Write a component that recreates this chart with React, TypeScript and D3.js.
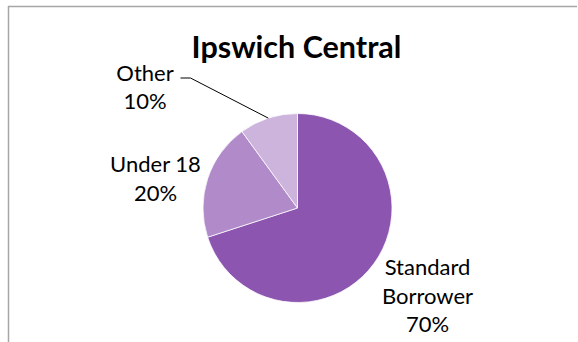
import React from "react";
import * as d3 from "d3";

const title = "Ipswich Central";
const categories = ["Standard Borrower", "Under 18", "Other"];
const values = [70, 20, 10];
const labelLines = [["Standard", "Borrower", "70%"], ["Under 18", "20%"], ["Other", "10%"]];
const colors = ["#8C56B0", "#B08AC9", "#CCB4DC"];

const W = 578;
const H = 342;
const cx = 297.5;
const cy = 208;
const R = 94.5;
const lineH = 28.5;
// label layout: offsets from pie centre (x centre, first baseline)
const labelLayout = [
  { dx: 130, dy: 67 },
  { dx: -142, dy: -36 },
  { dx: -152.5, dy: -127.5 },
];
const FONT = "Lato, 'Open Sans', sans-serif";

export default function App() {
  const pie = d3.pie<number>().sort(null).startAngle(0).endAngle(2 * Math.PI);
  const arcs = pie(values);
  const arc = d3.arc<d3.PieArcDatum<number>>().innerRadius(0).outerRadius(R);
  const edge = d3.arc<d3.PieArcDatum<number>>().innerRadius(R).outerRadius(R);

  const otherIdx = 2;
  const [ex, ey] = edge.centroid(arcs[otherIdx]);
  const ol = labelLayout[otherIdx];
  const lx0 = cx + ol.dx + 35.5;
  const ly = cy + ol.dy - 2.5;

  return (
    <svg
      width={W}
      height={H}
      style={{ position: "absolute", left: 0, top: 0, background: "#fff" }}
    >
      <rect x={0} y={0} width={W} height={H} fill="#fff" />
      <line x1={8.5} y1={6} x2={8.5} y2={H + 2} stroke="#a6a6a6" strokeWidth={1.5} />
      <line x1={8} y1={6.5} x2={577} y2={6.5} stroke="#a6a6a6" strokeWidth={1.5} />
      <text
        x={296.5}
        y={58.3}
        textAnchor="middle"
        fontFamily={FONT}
        fontWeight="bold"
        fontSize={30.5}
        fill="#000"
      >
        {title}
      </text>
      <g transform={`translate(${cx},${cy})`}>
        {arcs.map((a, i) => (
          <path key={categories[i]} d={arc(a) || ""} fill={colors[i]} stroke="#fff" strokeWidth={0.75} />
        ))}
      </g>
      <polyline
        points={`${lx0},${ly} ${lx0 + 10},${ly} ${cx + ex},${cy + ey}`}
        fill="none"
        stroke="#000"
        strokeWidth={1}
      />
      {labelLines.map((lines, i) => (
        <text
          key={categories[i]}
          textAnchor="middle"
          fontFamily={FONT}
          fontSize={22}
          fill="#000"
        >
          {lines.map((t, j) => (
            <tspan key={j} x={cx + labelLayout[i].dx} y={cy + labelLayout[i].dy + j * lineH}>
              {t}
            </tspan>
          ))}
        </text>
      ))}
    </svg>
  );
}
